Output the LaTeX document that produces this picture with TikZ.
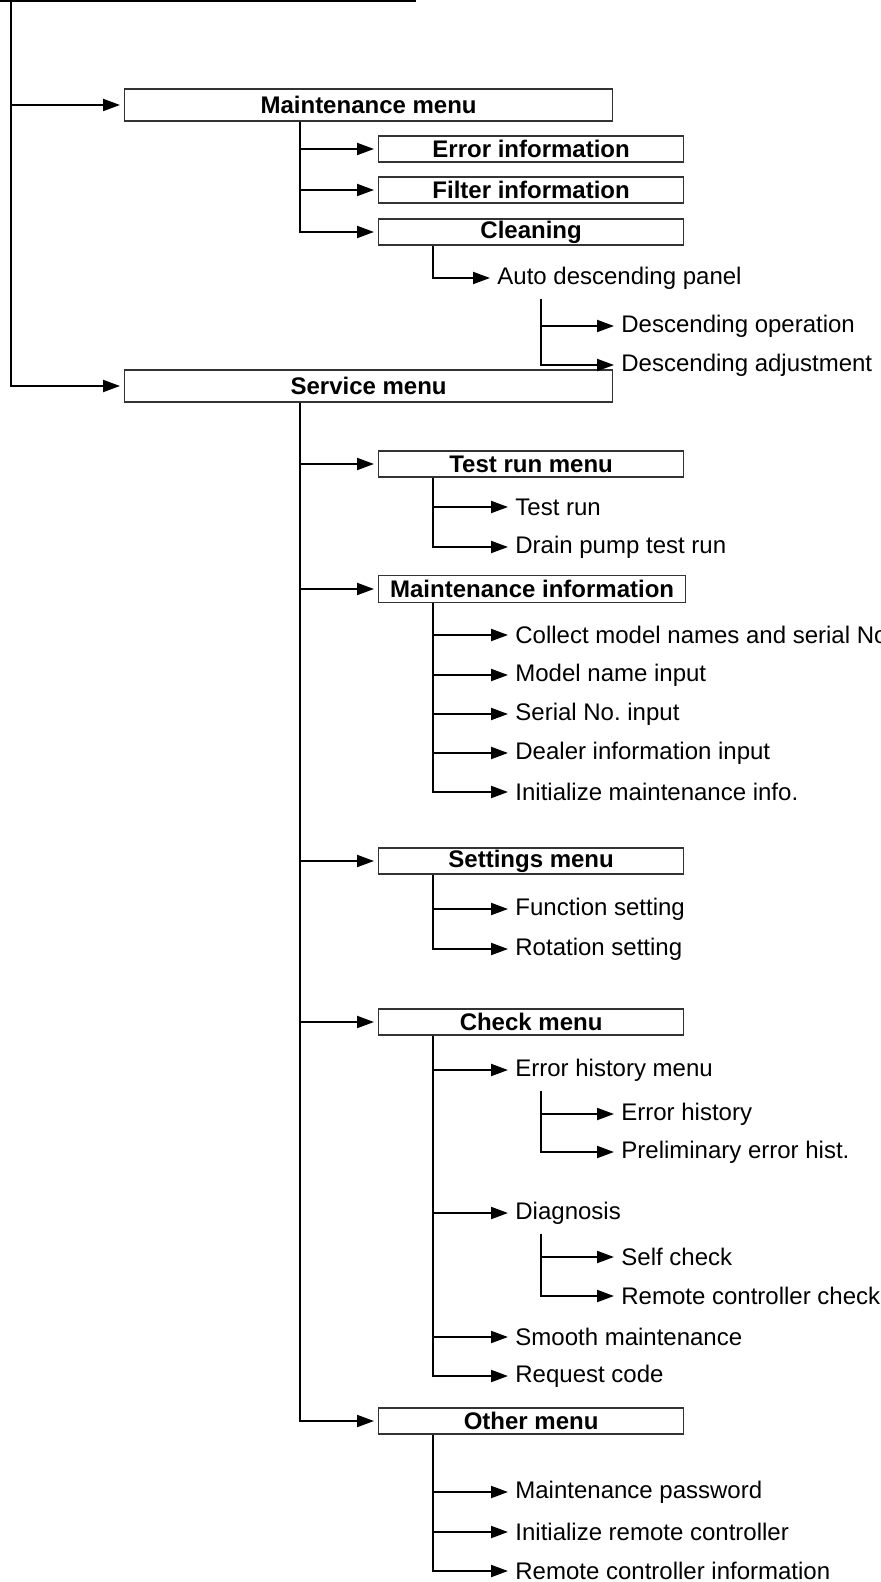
\documentclass[tikz,border=0pt]{standalone}
\usepackage{fontspec}
\setmainfont{Liberation Sans}
\usetikzlibrary{arrows.meta,calc,positioning}
\frenchspacing

\tikzset{
  menubox/.style={draw=black!80,line width=0.6pt,font=\bfseries\fontsize{12}{14}\selectfont,
    minimum height=13pt,inner sep=0pt,anchor=west},
  bigbox/.style={menubox,minimum width=244pt,minimum height=16pt},
  subbox/.style={menubox,minimum width=152.5pt},
  leaf/.style={font=\fontsize{12}{14}\selectfont,anchor=west,inner sep=1.5pt},
  link/.style={line width=1pt,shorten >=2pt,-{Triangle[length=8.5pt,width=6pt]}},
  trunk/.style={line width=1pt},
}

\begin{document}
\begin{tikzpicture}[x=0.5pt,y=-0.5pt]
\useasboundingbox (0,0) rectangle (880,1582);

% root line and trunk
\draw[trunk] (0,1) -- (416,1);
\coordinate (root) at (11,0);

% maintenance menu
\node[bigbox] (mm) at (124,105) {Maintenance menu};
\node[subbox] (ei) at (378,149) {Error information};
\node[subbox] (fi) at (378,190) {Filter information};
\node[subbox] (cl) at (378,232) {Cleaning};
\node[leaf] (adp) at (494,278) {Auto descending panel};
\node[leaf] (dop) at (618,326) {Descending operation};
\node[leaf] (dad) at (618,365) {Descending adjustment};

% service menu
\node[bigbox] (sm) at (124,386) {Service menu};
\node[subbox] (trm) at (378,464) {Test run menu};
\node[leaf] (tr) at (512,507) {Test run};
\node[leaf] (dp) at (512,547) {Drain pump test run};

\node[menubox,minimum width=153.5pt,minimum height=13.5pt] (mi) at (378,589) {Maintenance information};
\node[leaf] (cm) at (512,635) {Collect model names and serial No.};
\node[leaf] (mn) at (512,675) {Model name input};
\node[leaf] (sn) at (512,714) {Serial No. input};
\node[leaf] (di) at (512,753) {Dealer information input};
\node[leaf] (im) at (512,792) {Initialize maintenance info.};

\node[subbox] (set) at (378,861) {Settings menu};
\node[leaf] (fs) at (512,909) {Function setting};
\node[leaf] (rs) at (512,949) {Rotation setting};

\node[subbox] (chk) at (378,1022) {Check menu};
\node[leaf] (ehm) at (512,1070) {Error history menu};
\node[leaf] (eh) at (618,1114) {Error history};
\node[leaf] (peh) at (618,1152) {Preliminary error hist.};
\node[leaf] (dg) at (512,1213) {Diagnosis};
\node[leaf] (sc) at (618,1257) {Self check};
\node[leaf] (rcc) at (618,1296) {Remote controller check};
\node[leaf] (smt) at (512,1337) {Smooth maintenance};
\node[leaf] (rq) at (512,1376) {Request code};

\node[subbox] (oth) at (378,1421) {Other menu};
\node[leaf] (mp) at (512,1492) {Maintenance password};
\node[leaf] (irc) at (512,1532) {Initialize remote controller};
\node[leaf] (rci) at (512,1571) {Remote controller information};

% drop points
\coordinate (mmdrop) at ($(mm.south west)+(176,0)$);
\coordinate (smdrop) at ($(sm.south west)+(176,0)$);
\coordinate (cldrop) at ($(cl.south west)+(55,0)$);
\coordinate (adpdrop) at ($(adp.south west)+(47,6)$);
\coordinate (trmdrop) at ($(trm.south west)+(55,0)$);
\coordinate (midrop) at ($(mi.south west)+(55,0)$);
\coordinate (setdrop) at ($(set.south west)+(55,0)$);
\coordinate (chkdrop) at ($(chk.south west)+(55,0)$);
\coordinate (ehmdrop) at ($(ehm.south west)+(29,6)$);
\coordinate (dgdrop) at ($(dg.south west)+(29,6)$);
\coordinate (othdrop) at ($(oth.south west)+(55,0)$);

% connectors
\draw[link] (root) |- (mm.west);
\draw[link] (root) |- (sm.west);
\foreach \t in {ei,fi,cl} \draw[link] (mmdrop) |- (\t.west);
\draw[link] (cldrop) |- (adp.west);
\foreach \t in {dop,dad} \draw[link] (adpdrop) |- (\t.west);
\foreach \t in {trm,mi,set,chk,oth} \draw[link] (smdrop) |- (\t.west);
\foreach \t in {tr,dp} \draw[link] (trmdrop) |- (\t.west);
\foreach \t in {cm,mn,sn,di,im} \draw[link] (midrop) |- (\t.west);
\foreach \t in {fs,rs} \draw[link] (setdrop) |- (\t.west);
\foreach \t in {ehm,dg,smt,rq} \draw[link] (chkdrop) |- (\t.west);
\foreach \t in {eh,peh} \draw[link] (ehmdrop) |- (\t.west);
\foreach \t in {sc,rcc} \draw[link] (dgdrop) |- (\t.west);
\foreach \t in {mp,irc,rci} \draw[link] (othdrop) |- (\t.west);
\end{tikzpicture}
\end{document}
